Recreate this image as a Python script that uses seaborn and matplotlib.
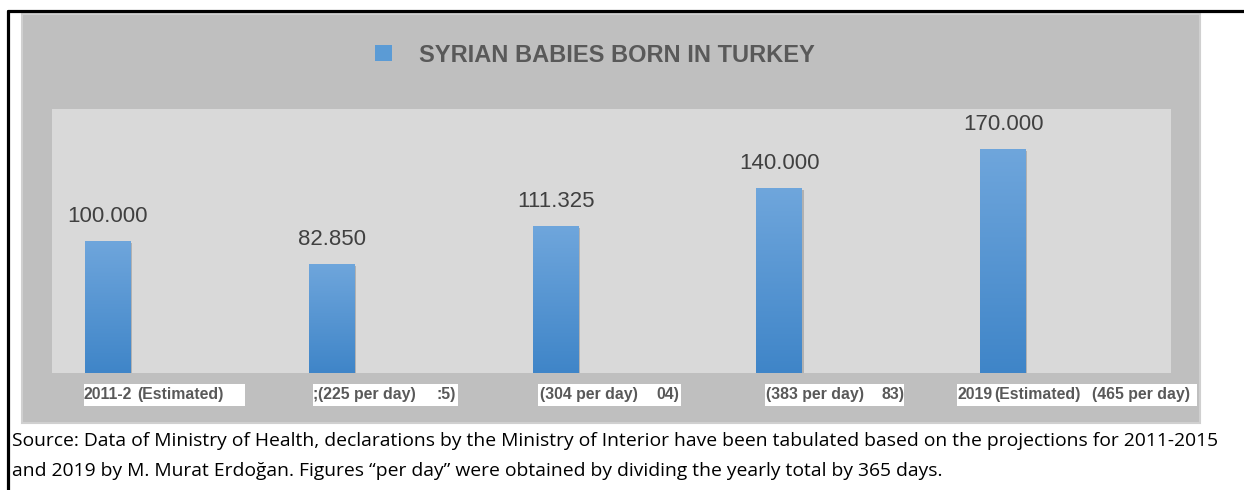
import numpy as np
import pandas as pd
import matplotlib.pyplot as plt
from matplotlib.patches import Rectangle, Patch
from matplotlib.lines import Line2D
import seaborn as sns

# Data
categories = ['2011-2015', '2016', '2017', '2018', '2019']
births = [100000, 82850, 111325, 140000, 170000]
value_labels = ['100.000', '82.850', '111.325', '140.000', '170.000']
title = 'SYRIAN BABIES BORN IN TURKEY'
caption_lines = ["Source: Data of Ministry of Health, declarations by the Ministry of Interior have been tabulated based on the projections for 2011-2015",
                 "and 2019 by M. Murat Erdoğan. Figures \u201cper day\u201d were obtained by dividing the yearly total by 365 days."]

# garbled category label pieces as they show in the original (text, left px)
label_pieces = [('2011-2', 84), ('(Estimated)', 137),
                (';', 313), ('(225 per day)', 318), (':5)', 437),
                ('(304 per day)', 540), ('04)', 656),
                ('(383 per day)', 766), ('83)', 882),
                ('2019', 957), ('(Estimated)', 994), ('(465 per day)', 1092)]
label_boxes = [(84, 245), (313, 458), (538, 681), (765, 904), (957, 1090), (1090, 1197)]

W, H = 1244, 490
sns.set_theme(style='white')
plt.rcParams['font.family'] = ['Liberation Sans', 'DejaVu Sans']

fig = plt.figure(figsize=(W / 100, H / 100), dpi=100)
fig.patch.set_facecolor('white')

def px_rect(x0, y0, x1, y1, **kw):
    return Rectangle((x0 / W, 1 - y1 / H), (x1 - x0) / W, (y1 - y0) / H,
                     transform=fig.transFigure, **kw)

# outer gray chart area
fig.add_artist(px_rect(22, 14, 1200, 423, facecolor='#bfbfbf', edgecolor='#d0d0d0', lw=1.5, zorder=0))

# black frame lines
fig.add_artist(Line2D([8 / W, 1], [1 - 11 / H] * 2, transform=fig.transFigure, color='black', lw=2.3))
fig.add_artist(Line2D([8 / W] * 2, [0, 1 - 11 / H], transform=fig.transFigure, color='black', lw=2.3))

ax = fig.add_axes([52 / W, 1 - 373 / H, (1171 - 52) / W, (373 - 109) / H])
ax.set_facecolor('#d9d9d9')

df = pd.DataFrame({'period': categories, 'births': births})
sns.barplot(data=df, x='period', y='births', color='#5b9bd5', width=0.205, ax=ax, zorder=3)

# gradient fill and shadow on bars
grad = np.linspace(0, 1, 256).reshape(-1, 1)
cmap = plt.matplotlib.colors.LinearSegmentedColormap.from_list('bar', ['#3f85c8', '#6fa6dc'])
for bar in list(ax.patches):
    x0, y0 = bar.get_x(), bar.get_y()
    w, h = bar.get_width(), bar.get_height()
    shadow = Rectangle((x0 + 0.006, y0 - 1500), w, h, facecolor='#a0a0a0', edgecolor='none', zorder=2, alpha=0.7)
    ax.add_patch(shadow)
    im = ax.imshow(grad, extent=(x0, x0 + w, y0, y0 + h), origin='lower', cmap=cmap,
                   aspect='auto', zorder=4)
    im.set_clip_path(bar)
    bar.set_edgecolor('none')
ax.set_xlim(-0.25, 4.75)
ax.set_ylim(0, 200000)

for i, (v, lab) in enumerate(zip(births, value_labels)):
    ax.annotate(lab, (i, v), xytext=(0, 10), textcoords='offset points', ha='center', va='bottom',
                fontsize=16, color='#404040')

ax.set_xticks([])
ax.set_yticks([])
ax.set_xlabel('')
ax.set_ylabel('')
for s in ax.spines.values():
    s.set_visible(False)

# legend as title
fig.legend(handles=[Patch(facecolor='#5b9bd5', edgecolor='none')], labels=[title],
           loc='center', bbox_to_anchor=(595 / W, 1 - 55 / H), frameon=False,
           prop={'weight': 'bold', 'size': 17}, labelcolor='#595959',
           handlelength=0.68, handleheight=0.68, handletextpad=1.15)

# category label boxes
for x0, x1 in label_boxes:
    fig.add_artist(px_rect(x0, 384, x1, 406, facecolor='white', edgecolor='none', zorder=5))
for txt, x in label_pieces:
    fig.text(x / W, 1 - 394 / H, txt, ha='left', va='center', fontsize=11.4, fontweight='bold',
             color='#595959', zorder=6)

for line, y in zip(caption_lines, [441, 471]):
    fig.text(12 / W, 1 - y / H, line, ha='left', va='center', fontsize=13.9, color='black',
             family=['Open Sans', 'DejaVu Sans'])

fig.savefig('out.png', dpi=100)
